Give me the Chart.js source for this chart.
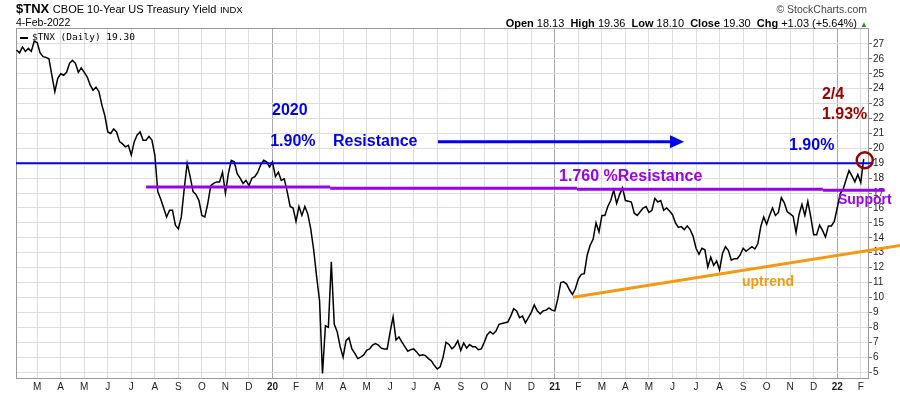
<!DOCTYPE html>
<html>
<head>
<meta charset="utf-8">
<title>$TNX CBOE 10-Year US Treasury Yield</title>
<script src="https://cdn.jsdelivr.net/npm/chart.js@4.4.1/dist/chart.umd.min.js"></script>
<style>
  html, body { margin: 0; padding: 0; background: #fff; }
  #wrap { position: relative; width: 900px; height: 396px; overflow: hidden;
          font-family: "Liberation Sans", Arial, sans-serif; color: #000; }
  #wrap canvas { position: absolute; left: 0; top: 0; }
  .t { position: absolute; white-space: nowrap; line-height: 1; }
  #title { left: 16px; top: 2px; font-size: 13px; }
  #title .name { font-size: 11px; }
  #title .sm { font-size: 9.5px; }
  #date { left: 16px; top: 17px; font-size: 10.5px; }
  #brand { right: 33px; top: 4px; font-size: 10.5px; color: #444; }
  #ohlc { right: 32px; top: 17.5px; font-size: 11px; }
  #ohlc b { margin-left: 3px; }
  #ohlc .up { color: #2e8b2e; font-size: 8px; }
  #legend { left: 20px; top: 31px; font: 9.5px "DejaVu Sans Mono", monospace; }
  #legend .sw { display: inline-block; width: 8px; height: 2px; background: #000;
                vertical-align: middle; margin-right: 4px; }
</style>
</head>
<body>
<div id="wrap">
  <canvas id="chart" width="900" height="396"></canvas>
  <div class="t" id="title"><b>$TNX</b> <span class="name">CBOE 10-Year US Treasury Yield</span> <span class="sm">INDX</span></div>
  <div class="t" id="date">4-Feb-2022</div>
  <div class="t" id="brand">© StockCharts.com</div>
  <div class="t" id="ohlc"><b>Open</b> 18.13 <b>High</b> 19.36 <b>Low</b> 18.10 <b>Close</b> 19.30 <b>Chg</b> +1.03 (+5.64%) <span class="up">▲</span></div>
  <div class="t" id="legend"><span class="sw"></span>$TNX (Daily) 19.30</div>
</div>
<script>
// x 轴单位：月，0 = 2019 年 3 月初；每个样本间隔 1/8 月
var START = -0.875;
var STEP = 0.125;

// $TNX 收盘（收益率 ×10），从图上逐点读取
var tnx = [
  26.6, 26.4, 26.8, 26.5, 26.7, 26.5, 27.2, 27.1, 26.4, 26.15,
  26.1, 26.0, 24.9, 23.8, 24.7, 25.0, 24.9, 25.1, 25.7, 25.9,
  25.7, 25.1, 25.4, 25.1, 24.8, 24.25, 23.9, 24.1, 23.8, 22.9,
  22.2, 21.1, 21.0, 21.3, 21.1, 20.45, 20.3, 20.1, 20.2, 19.55,
  20.45, 20.9, 21.1, 20.55, 20.55, 20.8, 20.55, 19.55, 17.1, 16.6,
  16.0, 15.4, 15.85, 15.85, 14.85, 14.6, 15.4, 17.3, 19.0, 18.1,
  17.1, 16.9, 16.5, 15.5, 15.4, 16.3, 17.5, 17.65, 17.75, 17.75,
  18.4, 17.0, 18.3, 19.2, 19.1, 18.3, 18.0, 17.65, 17.85, 17.5,
  18.0, 18.1, 18.4, 18.9, 19.2, 19.1, 18.75, 19.1, 18.1, 18.4,
  17.85, 17.95, 17.1, 16.1, 16.0, 15.1, 16.1, 15.5, 16.1, 15.6,
  14.6, 13.2, 11.4, 9.8, 4.9, 8.1, 8.0, 12.4, 8.2, 7.7,
  6.7, 6.0, 7.1, 7.3, 6.55, 6.25, 5.9, 6.0, 6.15, 6.45,
  6.55, 6.8, 6.9, 6.8, 6.6, 6.55, 6.55, 7.7, 8.7, 7.15,
  7.35, 7.0, 6.7, 6.4, 6.5, 6.55, 6.35, 6.1, 6.15, 6.1,
  5.9, 5.75, 5.45, 5.2, 5.35, 6.0, 7.0, 6.85, 6.55, 6.75,
  7.1, 6.45, 6.95, 6.6, 6.85, 6.7, 6.7, 6.5, 6.55, 7.0,
  7.5, 7.7, 7.55, 7.75, 8.2, 8.25, 8.3, 8.35, 8.75, 9.25,
  9.1, 8.65, 8.75, 8.3, 8.65, 9.0, 9.5, 9.1, 8.9, 9.1,
  9.15, 9.3, 9.15, 9.1, 9.9, 11.0, 11.05, 10.9, 10.5, 10.2,
  10.6, 11.25, 11.55, 11.6, 12.85, 13.5, 13.9, 15.0, 14.4, 15.5,
  15.5, 16.1, 16.5, 17.2, 16.3, 16.9, 17.35, 16.5, 16.45, 16.4,
  15.65, 15.5, 15.75, 16.0, 16.1, 15.7, 15.85, 16.65, 16.4, 16.5,
  15.85, 16.0, 15.8, 15.55, 15.0, 14.7, 14.75, 14.55, 14.8, 14.55,
  14.1, 13.3, 12.9, 13.3, 13.2, 12.05, 12.7, 12.15, 12.45, 11.85,
  12.95, 13.4, 13.15, 12.5, 12.6, 12.6, 12.85, 13.3, 13.1, 13.25,
  13.4, 13.25, 13.6, 14.75, 15.4, 14.9, 15.5, 16.0, 15.5, 15.7,
  16.7, 16.35, 15.75, 15.6, 15.45, 14.35, 15.55, 16.25, 15.5, 16.45,
  15.4, 14.2, 14.2, 14.85, 14.5, 14.05, 14.8, 14.8, 15.1, 16.0,
  16.95, 17.25, 17.9, 18.5, 18.15, 17.75, 18.25, 17.7, 19.3
];

var monthLabels = ["M","A","M","J","J","A","S","O","N","D","20","F",
                   "M","A","M","J","J","A","S","O","N","D","21","F",
                   "M","A","M","J","J","A","S","O","N","D","22","F"];
var yearTicks = [10, 22, 34];
var yTicks = [5, 6, 7, 8, 9, 10, 11, 12, 13, 14, 15, 16, 17, 18, 19, 20, 21, 22, 23, 24, 25, 26, 27];

// 手绘标注（数据坐标：月, 收益率×10）
var resistanceLine = [[-0.9, 19.0], [35.45, 19.0]];
var supportSteps = [[4.63, 12.45, 17.40], [12.45, 22.94, 17.32], [22.94, 33.39, 17.26], [33.39, 36.02, 17.19]];
var uptrendLine = [[22.77, 10.02], [36.7, 13.5]];
var arrowLine = [[17.03, 20.44], [27.49, 20.44]];
var lastMark = [35.17, 19.2];

var BLUE = "#0000ee", PURPLE = "#9900ee", ORANGE = "#f39a12", DARKRED = "#990000";
var SANS = "'Liberation Sans', Arial, sans-serif";

var notes = [
  { text: "2020", x: 9.98, y: 22.23, color: BLUE, size: 16 },
  { text: "1.90%", x: 9.9, y: 20.15, color: BLUE, size: 16 },
  { text: "Resistance", x: 12.57, y: 20.15, color: BLUE, size: 16 },
  { text: "1.90%", x: 31.95, y: 19.89, color: BLUE, size: 16 },
  { text: "2/4", x: 33.35, y: 23.31, color: DARKRED, size: 16 },
  { text: "1.93%", x: 33.35, y: 21.97, color: DARKRED, size: 16 },
  { text: "1.760 %Resistance", x: 22.18, y: 17.81, color: PURPLE, size: 16 },
  { text: "Support", x: 34.03, y: 16.26, color: PURPLE, size: 14 },
  { text: "uptrend", x: 29.95, y: 10.76, color: ORANGE, size: 14 }
];

var frame = {
  id: "frame",
  beforeDatasetsDraw: function (chart) {
    var a = chart.chartArea, ctx = chart.ctx;
    ctx.save();
    ctx.strokeStyle = "#9a9a9a";
    ctx.lineWidth = 1;
    ctx.strokeRect(a.left + 0.5, a.top + 0.5, a.right - a.left - 1, a.bottom - a.top);
    ctx.restore();
  }
};

var overlay = {
  id: "overlay",
  afterDatasetsDraw: function (chart) {
    var ctx = chart.ctx, xs = chart.scales.x, ys = chart.scales.y;
    function px(v) { return xs.getPixelForValue(v); }
    function py(v) { return ys.getPixelForValue(v); }
    function seg(x1, y1, x2, y2, color, w) {
      ctx.beginPath();
      ctx.moveTo(px(x1), py(y1));
      ctx.lineTo(px(x2), py(y2));
      ctx.strokeStyle = color;
      ctx.lineWidth = w;
      ctx.stroke();
    }
    ctx.save();
    ctx.lineCap = "butt";
    seg(resistanceLine[0][0], resistanceLine[0][1], resistanceLine[1][0], resistanceLine[1][1], BLUE, 2);
    supportSteps.forEach(function (s) { seg(s[0], s[2], s[1], s[2], PURPLE, 3); });
    seg(uptrendLine[0][0], uptrendLine[0][1], uptrendLine[1][0], uptrendLine[1][1], ORANGE, 3);

    // 箭头
    var ay = py(arrowLine[0][1]), tip = px(arrowLine[1][0]);
    ctx.beginPath();
    ctx.moveTo(px(arrowLine[0][0]), ay);
    ctx.lineTo(tip - 12, ay);
    ctx.strokeStyle = BLUE;
    ctx.lineWidth = 3;
    ctx.stroke();
    ctx.beginPath();
    ctx.moveTo(tip, ay);
    ctx.lineTo(tip - 14, ay - 6.5);
    ctx.lineTo(tip - 14, ay + 6.5);
    ctx.closePath();
    ctx.fillStyle = BLUE;
    ctx.fill();

    // 最新值圈
    ctx.beginPath();
    ctx.arc(px(lastMark[0]), py(lastMark[1]), 8, 0, Math.PI * 2);
    ctx.strokeStyle = DARKRED;
    ctx.lineWidth = 2.5;
    ctx.stroke();

    ctx.textAlign = "left";
    ctx.textBaseline = "alphabetic";
    notes.forEach(function (n) {
      ctx.font = "bold " + n.size + "px " + SANS;
      ctx.fillStyle = n.color;
      ctx.fillText(n.text, px(n.x), py(n.y));
    });
    ctx.restore();
  }
};

new Chart(document.getElementById("chart"), {
  type: "line",
  data: {
    datasets: [{
      label: "$TNX (Daily)",
      data: tnx.map(function (v, i) { return { x: START + i * STEP, y: v }; }),
      borderColor: "#000",
      borderWidth: 1.5,
      pointRadius: 0,
      tension: 0
    }]
  },
  options: {
    responsive: false,
    animation: false,
    devicePixelRatio: 1,
    layout: { padding: { left: 16, top: 28, right: 0, bottom: 0 } },
    plugins: { legend: { display: false }, tooltip: { enabled: false } },
    scales: {
      x: {
        type: "linear",
        min: -0.9,
        max: 35.35,
        border: { display: false },
        grid: {
          drawTicks: false,
          color: function (c) {
            return c.tick && yearTicks.indexOf(c.tick.value) >= 0 ? "#a8a8a8" : "#dddddd";
          }
        },
        ticks: {
          autoSkip: false,
          maxRotation: 0,
          padding: 3,
          color: "#222",
          font: function (c) {
            var yr = c.tick && yearTicks.indexOf(c.tick.value) >= 0;
            return { family: SANS, size: 10, weight: yr ? "bold" : "normal" };
          },
          callback: function (v) { return monthLabels[v] || ""; }
        },
        afterBuildTicks: function (s) { s.ticks = monthLabels.map(function (_, i) { return { value: i }; }); },
        afterFit: function (s) { s.height = 18; }
      },
      y: {
        type: "linear",
        position: "right",
        min: 4.6,
        max: 28.07,
        border: { display: false },
        grid: { color: "#dddddd", tickLength: 3, tickColor: "#777" },
        ticks: {
          padding: 1,
          color: "#222",
          font: { family: SANS, size: 10 },
          callback: function (v) { return String(v); }
        },
        afterBuildTicks: function (s) { s.ticks = yTicks.map(function (v) { return { value: v }; }); },
        afterFit: function (s) { s.width = 31; }
      }
    }
  },
  plugins: [frame, overlay]
});
</script>
</body>
</html>
